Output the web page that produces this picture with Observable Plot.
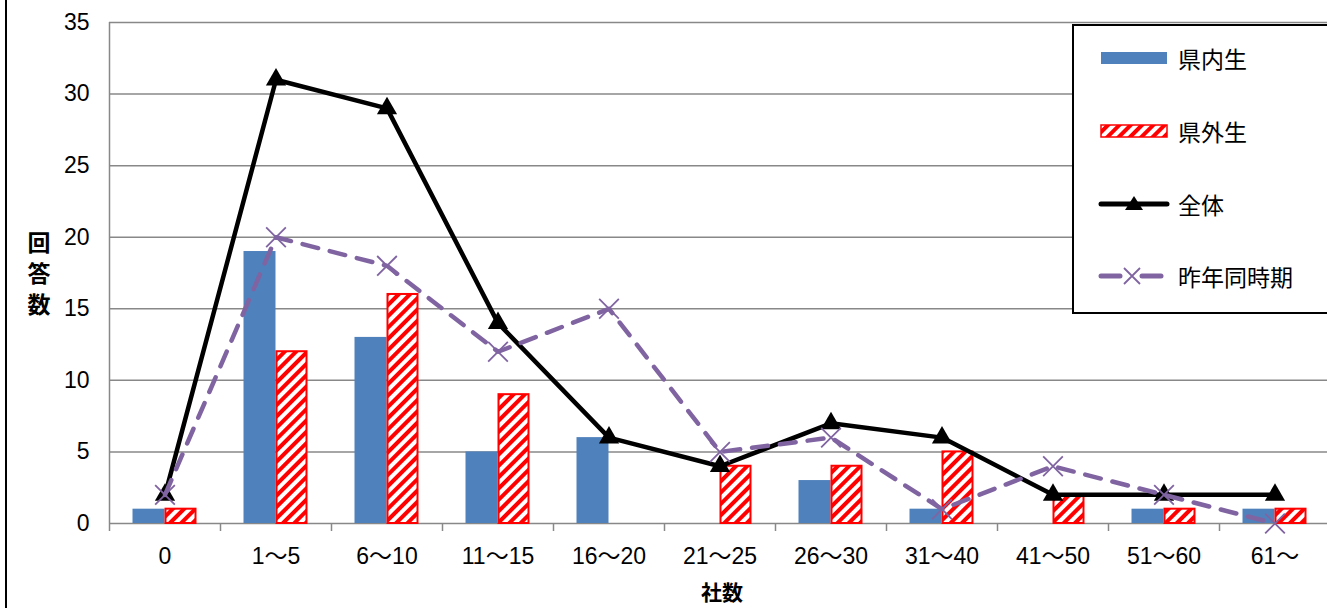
<!DOCTYPE html>
<html><head><meta charset="utf-8">
<script src="https://cdn.jsdelivr.net/npm/d3@7"></script>
<script src="https://cdn.jsdelivr.net/npm/@observablehq/plot@0.6"></script>
<style>
html,body{margin:0;padding:0;background:#fff;overflow:hidden;}
#wrap{position:relative;width:1327px;height:608px;overflow:hidden;font-family:"Liberation Sans","Noto Sans CJK JP",sans-serif;}
#lborder{position:absolute;left:5px;top:0;width:2px;height:608px;background:#000;}
#ylab{position:absolute;left:25px;top:226px;width:28px;font-family:"Noto Sans CJK JP",sans-serif;font-weight:bold;font-size:23px;line-height:31px;text-align:center;color:#000;}
#xlab{position:absolute;left:672px;top:580px;width:100px;height:22px;line-height:22px;text-align:center;font-family:"Noto Sans CJK JP",sans-serif;font-weight:bold;font-size:21px;color:#000;}
#legend{position:absolute;left:1072px;top:24px;width:270px;height:290px;border:2px solid #000;background:#fff;box-sizing:border-box;}
.li{position:absolute;left:24px;height:30px;display:flex;align-items:center;font-family:"Noto Sans CJK JP",sans-serif;font-size:23px;color:#000;}
.li svg{margin-right:8px;}
</style>
</head><body>
<div id="wrap">
<div id="chart"></div>
<div id="lborder"></div>
<div id="ylab">回<br>答<br>数</div>
<div id="xlab">社数</div>
<div id="legend"></div>
</div>
<script>
const categories = ["0","1〜5","6〜10","11〜15","16〜20","21〜25","26〜30","31〜40","41〜50","51〜60","61〜"];
const kennai = [1,19,13,5,6,0,3,1,0,1,1];
const kengai = [1,12,16,9,0,4,4,5,2,1,1];
const zentai = [2,31,29,14,6,4,7,6,2,2,2];
const sakunen = [2,20,18,12,15,5,6,1,4,2,0];
const yTicks = [0,5,10,15,20,25,30,35];
const seriesNames = ["県内生","県外生","全体","昨年同時期"];

const W = 1327, H = 608, mL = 109, mR = -3, mT = 22, mB = 85;
const bw = (W - mL - mR) / categories.length;
const barW = 32;
const rows = categories.map((c,i)=>({c, a:kennai[i], b:kengai[i], t:zentai[i], p:sakunen[i]}));

const plot = Plot.plot({
  width: W, height: H,
  marginLeft: mL, marginRight: mR, marginTop: mT, marginBottom: mB,
  style: {fontFamily: '"Liberation Sans","Noto Sans CJK JP",sans-serif', fontSize: "23px", color: "#000", background: "transparent", overflow: "visible"},
  x: {type: "band", domain: categories, padding: 0, label: null},
  y: {domain: [0, 35], label: null},
  marks: [
    Plot.ruleY(yTicks, {stroke: "#888", strokeWidth: 1.5}),
    Plot.ruleX([categories[0]], {x: d=>d, dx: -bw/2, stroke: "#888", strokeWidth: 1.5}),
    Plot.ruleX(categories, {x: d=>d, dx: -bw/2, stroke: "#888", strokeWidth: 1.5, insetTop: H - mT - mB, insetBottom: -8}),
    Plot.barY(rows, {x: "c", y: "a", fill: "#4F81BD", insetLeft: bw/2 - barW, insetRight: bw/2}),
    Plot.barY(rows.filter(d=>d.b>0), {x: "c", y: "b", fill: "url(#hatch)", stroke: "#FF0000", strokeWidth: 2, insetLeft: bw/2 + 1, insetRight: bw/2 - barW + 1}),
    Plot.line(rows, {x: "c", y: "t", stroke: "#000", strokeWidth: 4.5, strokeLinejoin: "round"}),
    Plot.dot(rows, {x: "c", y: "t", symbol: "triangle", r: 7.5, fill: "#000", stroke: "none"}),
    Plot.line(rows, {x: "c", y: "p", stroke: "#8064A2", strokeWidth: 4.5, strokeDasharray: "16,12", strokeLinecap: "round"}),
    Plot.dot(rows, {x: "c", y: "p", symbol: "times", r: 9, stroke: "#8064A2", strokeWidth: 1.8}),
    Plot.axisY(yTicks, {tickSize: 0, tickPadding: 20, label: null}),
    Plot.axisX(categories, {tickSize: 0, tickPadding: 24, label: null})
  ]
});
const ns = "http://www.w3.org/2000/svg";
const defs = document.createElementNS(ns, "defs");
defs.innerHTML = '<pattern id="hatch" patternUnits="userSpaceOnUse" width="8" height="8" patternTransform="rotate(45)"><rect width="8" height="8" fill="#fff"/><rect width="4" height="8" fill="#FF0000"/></pattern>';
plot.insertBefore(defs, plot.firstChild);
document.getElementById("chart").appendChild(plot);

// legend
const swatches = [
  '<svg width="72" height="20"><rect x="3" y="4" width="66" height="12" fill="#4F81BD"/></svg>',
  '<svg width="72" height="20"><defs><pattern id="hatch2" patternUnits="userSpaceOnUse" width="8" height="8" patternTransform="rotate(45)"><rect width="8" height="8" fill="#fff"/><rect width="4" height="8" fill="#FF0000"/></pattern></defs><rect x="3" y="4" width="66" height="12" fill="url(#hatch2)" stroke="#FF0000" stroke-width="1.5"/></svg>',
  '<svg width="72" height="20"><line x1="3" y1="10" x2="69" y2="10" stroke="#000" stroke-width="5" stroke-linecap="round"/><path d="M36,2 L45,16 L27,16 Z" fill="#000"/></svg>',
  '<svg width="72" height="20"><line x1="3" y1="10" x2="22" y2="10" stroke="#8064A2" stroke-width="5" stroke-linecap="round"/><line x1="44" y1="10" x2="63" y2="10" stroke="#8064A2" stroke-width="5" stroke-linecap="round"/><path d="M26,2 L42,18 M42,2 L26,18" stroke="#8064A2" stroke-width="1.8"/></svg>'
];
const tops = [17, 90, 163, 235];
const lg = document.getElementById("legend");
seriesNames.forEach((n,i)=>{
  const d = document.createElement("div");
  d.className = "li"; d.style.top = tops[i] + "px";
  d.innerHTML = swatches[i] + '<span>' + n + '</span>';
  lg.appendChild(d);
});
</script>
</body></html>
